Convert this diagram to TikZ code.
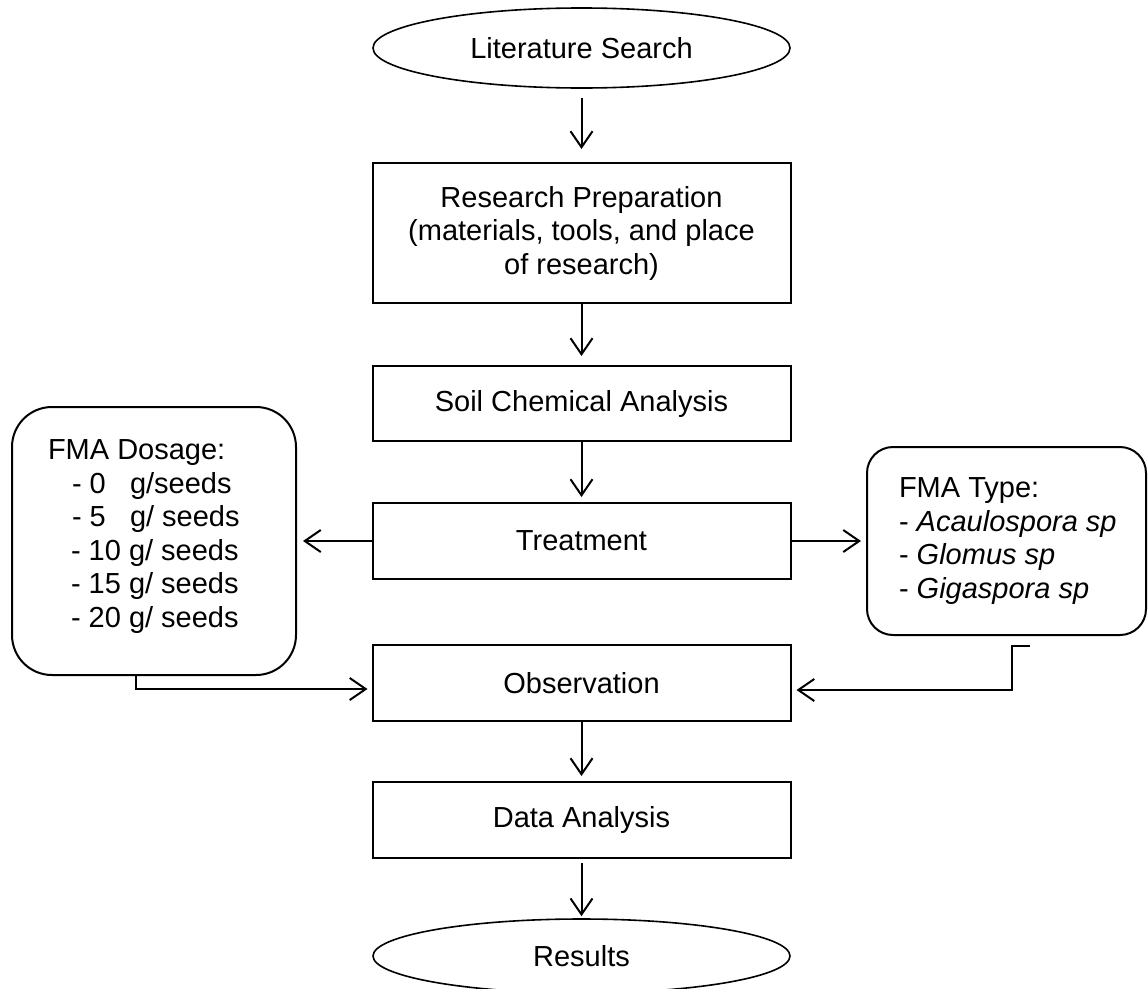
\documentclass[tikz,border=0pt]{standalone}
\usepackage{fontspec}
\setmainfont{Liberation Sans}
\usetikzlibrary{shapes.geometric,arrows.meta}

\begin{document}
\begin{tikzpicture}[x=1pt,y=-1pt,line width=2pt,
   every node/.style={font=\fontsize{29}{33.5}\selectfont},
   stage/.style={draw,rectangle,minimum width=418pt,minimum height=76pt,inner sep=0pt,align=center},
   term/.style={draw,ellipse,line width=1.6pt,minimum width=417pt,inner sep=0pt},
   panel/.style={draw,rounded corners=#1,inner sep=0pt},
   arr/.style={-{Straight Barb[length=16pt,width=22pt]}}]
   \useasboundingbox (0,0) rectangle (1148,988);
   \node[term,minimum height=80pt] (lit) at (581.5,48) {Literature Search};
   \node[stage,minimum height=140pt] (prep) at (581.5,233) {Research Preparation\\(materials, tools, and place\\of research)};
   \node[stage,minimum height=75pt] (soil) at (581.5,403.5) {Soil Chemical Analysis};
   \node[stage] (treat) at (581.5,541) {Treatment};
   \node[stage] (obs) at (581.5,683) {Observation};
   \node[stage] (data) at (581.5,820) {Data Analysis};
   \node[term,minimum height=74pt] (res) at (581.5,956) {Results};
   \node[panel=40pt,minimum width=284pt,minimum height=268pt] (dose) at (154,541) {};
   \node[anchor=north west,align=left,inner sep=0pt] (dosetxt) at (47,439) {FMA Dosage:\\
      \hspace*{24pt}- 0\ \ \ g/seeds\\
      \hspace*{24pt}- 5\ \ \ g/ seeds\\
      \hspace*{23pt}- 10 g/ seeds\\
      \hspace*{23pt}- 15 g/ seeds\\
      \hspace*{23pt}- 20 g/ seeds};
   \node[panel=26pt,minimum width=279pt,minimum height=188pt] (type) at (1006.5,541) {};
   \node[anchor=north west,align=left,inner sep=0pt] (typetxt) at (898,477) {FMA Type:\\
      - \textit{Acaulospora sp}\\
      - \textit{Glomus sp}\\
      - \textit{Gigaspora sp}};
   \draw[arr,shorten <=9pt,shorten >=13pt] (lit) -- (prep);
   \draw[arr,shorten >=9pt] (prep) -- (soil);
   \draw[arr,shorten >=5pt] (soil) -- (treat);
   \draw[arr,shorten >=6pt] (treat) -- (dose);
   \draw[arr,shorten >=5pt] (treat) -- (type);
   \draw[arr,shorten >=5pt] (obs) -- (data);
   \draw[arr,shorten <=4pt,shorten >=2pt] (data) -- (res);
   \draw[arr,shorten >=4pt] ([xshift=-18pt]dose.south) |- ([yshift=-6pt]obs.west);
   \coordinate (typestub) at (1030,646);
   \draw[arr,shorten >=5pt] (typestub) -- ++(-18,0) |- ([yshift=-7pt]obs.east);
\end{tikzpicture}
\end{document}
